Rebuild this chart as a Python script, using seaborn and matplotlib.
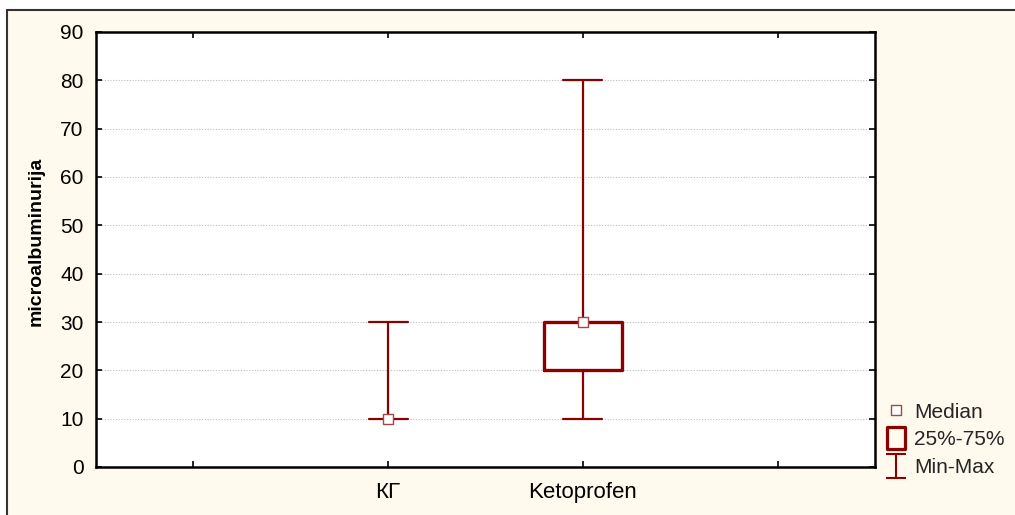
import matplotlib
matplotlib.use("Agg")
import matplotlib.pyplot as plt
from matplotlib.patches import Rectangle
from matplotlib.lines import Line2D
from matplotlib.path import Path
import seaborn as sns
import pandas as pd

# ---- data (five-number summaries) ----
groups = ["КГ", "Ketoprofen"]
g_min = [10, 10]
g_q1 = [10, 20]
g_median = [10, 30]
g_q3 = [10, 30]
g_max = [30, 80]
order = ["_a", "КГ", "Ketoprofen", "_b"]
tick_labels = ["", "КГ", "Ketoprofen", ""]
yticks = [0, 10, 20, 30, 40, 50, 60, 70, 80, 90]
ylabel = "microalbuminurija"
legend_labels = ["Median", "25%-75%", "Min-Max"]

red = "#8B0000"
med_edge = "#A04848"

rows = []
for g, a, b, c, d, e in zip(groups, g_min, g_q1, g_median, g_q3, g_max):
    for v in (a, b, c, d, e):
        rows.append({"group": g, "value": v})
df = pd.DataFrame(rows)
med_df = pd.DataFrame({"group": groups, "value": g_median})

sns.set_theme(style="white")
plt.rcParams["font.family"] = ["Liberation Sans", "DejaVu Sans"]

fig = plt.figure(figsize=(10.15, 5.15), dpi=100)
fig.patch.set_facecolor("white")
fig.add_artist(Rectangle((7 / 1015, -0.2), 1.2, 1.2 - 10 / 515,
                         transform=fig.transFigure, facecolor="#FFF9EE",
                         edgecolor="#333333", lw=1.5, zorder=-10))

ax = fig.add_axes([96 / 1015, 1 - 467 / 515, (875 - 96) / 1015, (467 - 32) / 515])
ax.set_facecolor("white")

sns.boxplot(data=df, x="group", y="value", order=order, whis=(0, 100),
            width=0.4, fill=False, color=red, linecolor=red, ax=ax,
            boxprops=dict(lw=2.4),
            whiskerprops=dict(lw=1.6), capprops=dict(lw=1.6),
            medianprops=dict(visible=False), showfliers=False, zorder=3)
# hide degenerate (zero-height) boxes, as in the original
for cont in ax.containers:
    for box in getattr(cont, "boxes", []):
        yd = box.get_ydata() if hasattr(box, "get_ydata") else box.get_path().vertices[:, 1]
        if max(yd) - min(yd) == 0:
            box.set_visible(False)

sns.scatterplot(data=med_df, x="group", y="value", marker="s", s=56,
                facecolor="white", edgecolor=med_edge, linewidth=1.0,
                ax=ax, zorder=5, legend=False)

ax.set_xlim(-0.5, 3.5)
ax.set_ylim(0, 90)
ax.set_yticks(yticks)
ax.set_xticks(range(len(order)))
ax.set_xticklabels(tick_labels)
ax.set_xlabel("")
ax.set_ylabel(ylabel, fontsize=14, fontweight="bold", color="black")
ax.yaxis.set_label_coords(-0.0655, 0.518)
ax.yaxis.grid(True, linestyle=(0, (1, 1.5)), color="#BDBDBD", lw=0.8)
ax.set_axisbelow(True)
for s in ax.spines.values():
    s.set_visible(True)
    s.set_color("black")
    s.set_linewidth(1.8)
ax.tick_params(axis="both", direction="in", length=4, width=1.2, color="black",
               labelsize=15, labelcolor="black", top=True, right=True,
               bottom=True, left=True)
ax.tick_params(axis="x", pad=11, labelsize=16)
ax.tick_params(axis="y", pad=9)

# legend symbols
box_marker = Path([(-0.41, -0.5), (0.41, -0.5), (0.41, 0.5), (-0.41, 0.5), (-0.41, -0.5)],
                  [Path.MOVETO, Path.LINETO, Path.LINETO, Path.LINETO, Path.CLOSEPOLY])
i_marker = Path([(-0.4, 0.5), (0.4, 0.5), (0, 0.5), (0, -0.5), (-0.4, -0.5), (0.4, -0.5)],
                [Path.MOVETO, Path.LINETO, Path.MOVETO, Path.LINETO, Path.MOVETO, Path.LINETO])
handles = [
    Line2D([], [], ls="none", marker="s", markersize=6.5, markerfacecolor="white",
           markeredgecolor=med_edge, markeredgewidth=1.0),
    Line2D([], [], ls="none", marker=box_marker, markersize=16.5, markerfacecolor="none",
           markeredgecolor=red, markeredgewidth=2.3),
    Line2D([], [], ls="none", marker=i_marker, markersize=17.3, markerfacecolor="none",
           markeredgecolor=red, markeredgewidth=1.5),
]
fig.legend(handles, legend_labels, loc="lower left", bbox_to_anchor=(886 / 1015, 38 / 515),
           frameon=False, fontsize=15, handlelength=1.0, handletextpad=0.35,
           labelspacing=0.42, borderaxespad=0, borderpad=0)

fig.savefig("out.png", dpi=100, facecolor=fig.get_facecolor())
